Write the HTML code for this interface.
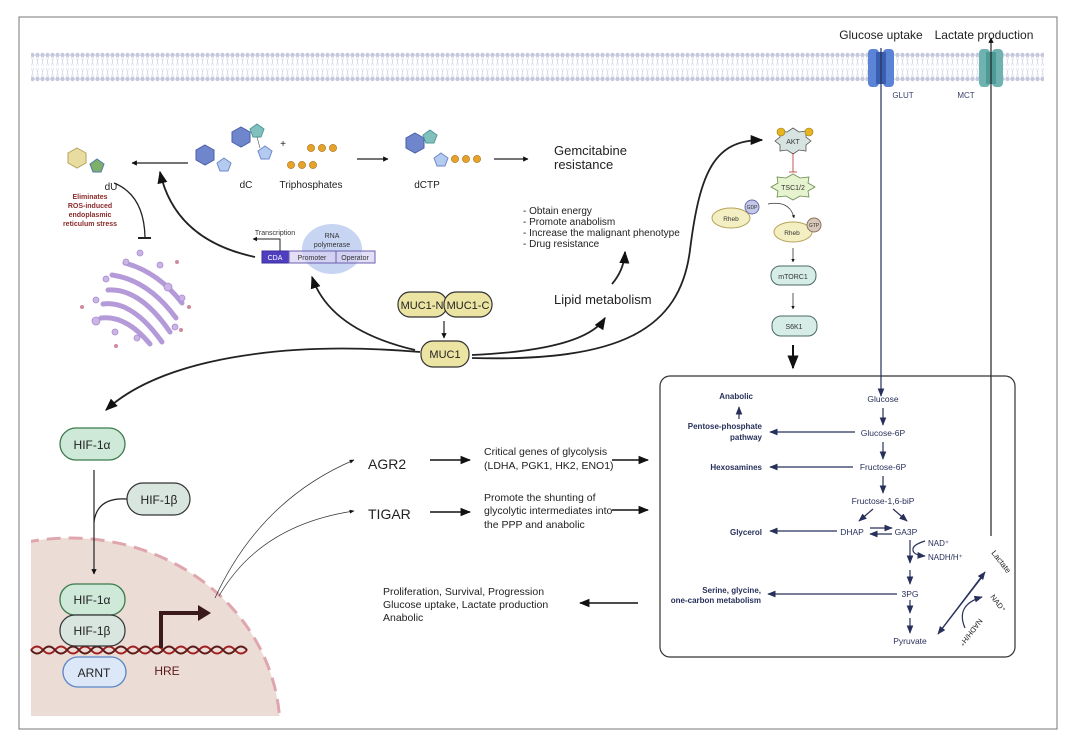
<!DOCTYPE html>
<html><head><meta charset="utf-8"><style>
html,body{margin:0;padding:0;background:#fff;overflow:hidden;width:1070px;height:743px}
svg{display:block}
text{font-family:"Liberation Sans",sans-serif}
</style></head><body>
<svg width="1070" height="743" viewBox="0 0 1070 743" xmlns="http://www.w3.org/2000/svg">
<defs>
<marker id="a" viewBox="0 0 10 10" refX="9" refY="5" markerWidth="7" markerHeight="7" orient="auto"><path d="M0,1 L10,5 L0,9 z" fill="#111"/></marker>
<marker id="ab" viewBox="0 0 10 10" refX="9" refY="5" markerWidth="4.5" markerHeight="4.5" orient="auto"><path d="M0,0 L10,5 L0,10 z" fill="#111"/></marker>
<marker id="an" viewBox="0 0 10 10" refX="9" refY="5" markerWidth="7" markerHeight="7" orient="auto"><path d="M0,1 L10,5 L0,9 z" fill="#27305a"/></marker>
<pattern id="mem" x="0" y="52" width="5" height="30" patternUnits="userSpaceOnUse">
<circle cx="2.5" cy="3" r="2.2" fill="#c3c8dc"/><circle cx="2.5" cy="27" r="2.2" fill="#c3c8dc"/>
<path d="M1.5,5 L3.5,14 M3.5,5 L1.5,14 M1.5,16 L3.5,25 M3.5,16 L1.5,25" stroke="#d5d9e8" stroke-width="0.6"/>
</pattern>
<clipPath id="nuc"><rect x="31" y="400" width="260" height="316"/></clipPath>
</defs>

<rect x="19" y="17" width="1038" height="712" fill="#fff" stroke="#777" stroke-width="1"/>

<rect x="31" y="52" width="1013" height="30" fill="url(#mem)"/>
<rect x="868" y="49" width="11" height="38" rx="4" fill="#5b84d6"/><rect x="883" y="49" width="11" height="38" rx="4" fill="#5b84d6"/><rect x="876" y="52" width="10" height="32" fill="#3a5fb0"/>
<rect x="979" y="49" width="11" height="38" rx="4" fill="#6fb3b0"/><rect x="992" y="49" width="11" height="38" rx="4" fill="#6fb3b0"/><rect x="986" y="52" width="10" height="32" fill="#4e9a96"/>
<text x="881" y="39" font-size="12" text-anchor="middle" fill="#222">Glucose uptake</text>
<text x="984" y="39" font-size="12" text-anchor="middle" fill="#222">Lactate production</text>
<text x="903" y="98" font-size="8" text-anchor="middle" fill="#3a4270">GLUT</text>
<text x="966" y="98" font-size="8" text-anchor="middle" fill="#3a4270">MCT</text>
<line x1="881" y1="48" x2="881" y2="396" stroke="#27305a" stroke-width="1.2" marker-end="url(#an)"/>
<line x1="991" y1="536" x2="991" y2="38" stroke="#222" stroke-width="1.2" marker-end="url(#ab)"/>

<polygon points="77,148 86,153 86,163 77,168 68,163 68,153" fill="#e8dca0" stroke="#b6a35a"/>
<polygon points="97,159 104,164 101,172 93,172 90,164" fill="#7fb069" stroke="#4f7aa8"/>
<text x="111" y="190" font-size="10" text-anchor="middle" fill="#222">dU</text>
<line x1="188" y1="163" x2="132" y2="163" stroke="#222" stroke-width="1.2" marker-end="url(#ab)"/>
<polygon points="205,145 214,150 214,160 205,165 196,160 196,150" fill="#6f86cc" stroke="#4a5ea8"/>
<polygon points="224,158 231,163 228,171 220,171 217,163" fill="#b3cbef" stroke="#6f86cc"/>
<polygon points="241,127 250,132 250,142 241,147 232,142 232,132" fill="#6f86cc" stroke="#4a5ea8"/>
<polygon points="257,124 264,129 261,137 253,137 250,129" fill="#82c0bd" stroke="#4e9a96"/>
<polygon points="265,146 272,151 269,159 261,159 258,151" fill="#b3cbef" stroke="#6f86cc"/>
<line x1="257" y1="137" x2="260" y2="148" stroke="#555" stroke-width="0.6"/>
<text x="283" y="147" font-size="10" text-anchor="middle" fill="#222">+</text>
<g fill="#e6a22a" stroke="#a36f10" stroke-width="0.6">
<circle cx="311" cy="148" r="3.6"/><circle cx="322" cy="148" r="3.6"/><circle cx="333" cy="148" r="3.6"/>
<circle cx="291" cy="165" r="3.6"/><circle cx="302" cy="165" r="3.6"/><circle cx="313" cy="165" r="3.6"/>
<circle cx="455" cy="159" r="3.6"/><circle cx="466" cy="159" r="3.6"/><circle cx="477" cy="159" r="3.6"/>
</g>
<text x="246" y="188" font-size="10" text-anchor="middle" fill="#222">dC</text>
<text x="311" y="188" font-size="10" text-anchor="middle" fill="#222">Triphosphates</text>
<line x1="357" y1="159" x2="388" y2="159" stroke="#222" stroke-width="1.2" marker-end="url(#ab)"/>
<polygon points="415,133 424,138 424,148 415,153 406,148 406,138" fill="#6f86cc" stroke="#4a5ea8"/>
<polygon points="430,130 437,135 434,143 426,143 423,135" fill="#82c0bd" stroke="#4e9a96"/>
<polygon points="441,153 448,158 445,166 437,166 434,158" fill="#b3cbef" stroke="#6f86cc"/>
<text x="427" y="188" font-size="10" text-anchor="middle" fill="#222">dCTP</text>
<line x1="494" y1="159" x2="528" y2="159" stroke="#222" stroke-width="1.2" marker-end="url(#ab)"/>
<text x="554" y="155" font-size="13" fill="#222">Gemcitabine</text>
<text x="554" y="169" font-size="13" fill="#222">resistance</text>

<g font-size="7" font-weight="bold" fill="#8a2a2a" text-anchor="middle">
<text x="90" y="199">Eliminates</text><text x="90" y="208">ROS-induced</text><text x="90" y="217">endoplasmic</text><text x="90" y="226">reticulum stress</text></g>
<path d="M114,183 Q144,195 145,237" fill="none" stroke="#222" stroke-width="1.3"/>
<line x1="138" y1="238" x2="151" y2="238" stroke="#222" stroke-width="2"/>
<g fill="none" stroke="#b49ad8" stroke-width="5" stroke-linecap="round">
<path d="M108,290 Q140,288 170,332"/><path d="M103,304 Q132,300 162,342"/><path d="M112,275 Q148,280 176,318"/><path d="M125,263 Q158,272 182,303"/><path d="M101,318 Q126,315 150,344"/></g>
<g fill="#cbb5e6" stroke="#a78bd0" stroke-width="0.8">
<circle cx="126" cy="262" r="3"/><circle cx="106" cy="279" r="3"/><circle cx="168" cy="287" r="4"/><circle cx="182" cy="298" r="3"/><circle cx="96" cy="321" r="4"/><circle cx="115" cy="332" r="3"/><circle cx="175" cy="327" r="3"/><circle cx="137" cy="338" r="3"/><circle cx="96" cy="300" r="3"/><circle cx="140" cy="253" r="3"/><circle cx="160" cy="265" r="3"/></g>
<g fill="#d08a9a"><circle cx="82" cy="307" r="2"/><circle cx="189" cy="307" r="2"/><circle cx="177" cy="262" r="2"/><circle cx="181" cy="330" r="2"/><circle cx="116" cy="346" r="2"/></g>

<path d="M255,257 Q175,240 160,172" fill="none" stroke="#222" stroke-width="1.8" marker-end="url(#a)"/>
<ellipse cx="332" cy="249" rx="30" ry="25" fill="#c7d4f2"/>
<text x="332" y="238" font-size="7" text-anchor="middle" fill="#333">RNA</text>
<text x="332" y="247" font-size="7" text-anchor="middle" fill="#333">polymerase</text>
<rect x="262" y="251" width="27" height="12" fill="#4f3fc0" stroke="#3a2e9a"/>
<rect x="289" y="251" width="47" height="12" fill="#d8d0f2" stroke="#6a60b0" fill-opacity="0.7"/>
<rect x="336" y="251" width="39" height="12" fill="#d8d0f2" stroke="#6a60b0" fill-opacity="0.7"/>
<text x="275" y="260" font-size="7" text-anchor="middle" fill="#fff">CDA</text>
<text x="312" y="260" font-size="7" text-anchor="middle" fill="#333">Promoter</text>
<text x="355" y="260" font-size="7" text-anchor="middle" fill="#333">Operator</text>
<text x="275" y="235" font-size="7" text-anchor="middle" fill="#333">Transcription</text>
<path d="M280,251 V239 H253" fill="none" stroke="#222" stroke-width="1" marker-end="url(#ab)"/>
<path d="M415,350 Q330,330 312,277" fill="none" stroke="#222" stroke-width="1.8" marker-end="url(#a)"/>

<rect x="398" y="292" width="49" height="25" rx="12" fill="#ece4a2" stroke="#333" stroke-width="1.2"/>
<rect x="444" y="292" width="48" height="25" rx="12" fill="#ece4a2" stroke="#333" stroke-width="1.2"/>
<text x="422" y="309" font-size="11" text-anchor="middle" fill="#222">MUC1-N</text>
<text x="468" y="309" font-size="11" text-anchor="middle" fill="#222">MUC1-C</text>
<line x1="444" y1="321" x2="444" y2="338" stroke="#222" stroke-width="1.2" marker-end="url(#ab)"/>
<rect x="421" y="341" width="48" height="26" rx="12" fill="#ece4a2" stroke="#333" stroke-width="1.2"/>
<text x="445" y="358" font-size="11" text-anchor="middle" fill="#222">MUC1</text>
<text x="554" y="304" font-size="13" fill="#222">Lipid metabolism</text>
<path d="M472,355 Q585,350 605,318" fill="none" stroke="#222" stroke-width="1.8" marker-end="url(#a)"/>
<g font-size="10" fill="#222"><text x="523" y="214">- Obtain energy</text><text x="523" y="225">- Promote anabolism</text><text x="523" y="236">- Increase the malignant phenotype</text><text x="523" y="247">- Drug resistance</text></g>
<path d="M612,284 Q624,270 625,252" fill="none" stroke="#222" stroke-width="1.8" marker-end="url(#a)"/>
<path d="M472,358 C620,362 680,330 690,250 C700,170 715,140 762,140" fill="none" stroke="#222" stroke-width="1.8" marker-end="url(#a)"/>
<path d="M420,352 C280,340 160,360 106,410" fill="none" stroke="#222" stroke-width="1.8" marker-end="url(#a)"/>

<polygon points="793,128 799,132 806,131 806,137 811,141 806,145 806,151 799,150 793,154 787,150 780,151 780,145 775,141 780,137 780,131 787,132" fill="#d7e3e0" stroke="#555" stroke-width="0.8"/>
<text x="793" y="144" font-size="7" text-anchor="middle" fill="#333">AKT</text>
<circle cx="781" cy="132" r="4" fill="#e6b520" stroke="#9a7410" stroke-width="0.6"/><circle cx="809" cy="132" r="4" fill="#e6b520" stroke="#9a7410" stroke-width="0.6"/>
<line x1="793" y1="153" x2="793" y2="172" stroke="#b03030" stroke-width="0.8"/><line x1="789" y1="172" x2="797" y2="172" stroke="#b03030" stroke-width="0.8"/>
<polygon points="793,174 800,178 809,177 808,183 815,187 808,191 809,197 800,196 793,200 786,196 777,197 778,191 771,187 778,183 777,177 786,178" fill="#e5f3cf" stroke="#6a8a4a" stroke-width="0.8"/>
<text x="793" y="190" font-size="7" text-anchor="middle" fill="#333">TSC1/2</text>
<ellipse cx="731" cy="218" rx="19" ry="10" fill="#f3efc2" stroke="#b6a35a"/>
<text x="731" y="221" font-size="6.5" text-anchor="middle" fill="#333">Rheb</text>
<circle cx="752" cy="207" r="7" fill="#c3c8e8" stroke="#6a70a8"/><text x="752" y="209" font-size="5" text-anchor="middle" fill="#333">GDP</text>
<path d="M768,204 Q790,200 794,218" fill="none" stroke="#333" stroke-width="0.7" marker-end="url(#ab)"/>
<ellipse cx="793" cy="232" rx="19" ry="10" fill="#f3efc2" stroke="#b6a35a"/>
<text x="792" y="235" font-size="6.5" text-anchor="middle" fill="#333">Rheb</text>
<circle cx="814" cy="225" r="7" fill="#d8c8b8" stroke="#8a7060"/><text x="814" y="227" font-size="5" text-anchor="middle" fill="#333">GTP</text>
<line x1="793" y1="248" x2="793" y2="262" stroke="#333" stroke-width="0.8" marker-end="url(#ab)"/>
<rect x="771" y="266" width="45" height="19" rx="9" fill="#d6ece6" stroke="#4a6a64"/>
<text x="793" y="279" font-size="7" text-anchor="middle" fill="#333">mTORC1</text>
<line x1="793" y1="293" x2="793" y2="309" stroke="#333" stroke-width="0.8" marker-end="url(#ab)"/>
<rect x="772" y="316" width="45" height="20" rx="9" fill="#d6ece6" stroke="#4a6a64"/>
<text x="794" y="329" font-size="7" text-anchor="middle" fill="#333">S6K1</text>
<line x1="793" y1="345" x2="793" y2="368" stroke="#111" stroke-width="2" marker-end="url(#a)"/>

<rect x="660" y="376" width="355" height="281" rx="10" fill="none" stroke="#333" stroke-width="1.2"/>
<g font-size="8.5" fill="#27305a" text-anchor="middle">
<text x="883" y="402">Glucose</text><text x="883" y="436">Glucose-6P</text><text x="883" y="470">Fructose-6P</text><text x="883" y="504">Fructose-1,6-biP</text>
<text x="852" y="535">DHAP</text><text x="906" y="535">GA3P</text><text x="910" y="597">3PG</text><text x="910" y="644">Pyruvate</text></g>
<g font-size="8" fill="#27305a"><text x="928" y="546">NAD⁺</text><text x="928" y="560">NADH/H⁺</text></g>
<g font-size="8" font-weight="bold" fill="#27305a" text-anchor="end">
<text x="753" y="399">Anabolic</text><text x="762" y="429">Pentose-phosphate</text><text x="762" y="440">pathway</text><text x="762" y="470">Hexosamines</text><text x="762" y="535">Glycerol</text><text x="761" y="593">Serine, glycine,</text><text x="761" y="603">one-carbon metabolism</text></g>
<g stroke="#27305a" stroke-width="1.2" fill="none" marker-end="url(#an)">
<line x1="739" y1="419" x2="739" y2="407"/>
<line x1="883" y1="408" x2="883" y2="425"/><line x1="883" y1="442" x2="883" y2="459"/><line x1="883" y1="476" x2="883" y2="493"/>
<line x1="855" y1="432" x2="770" y2="432"/><line x1="853" y1="467" x2="770" y2="467"/><line x1="837" y1="531" x2="770" y2="531"/><line x1="897" y1="594" x2="768" y2="594"/>
<line x1="873" y1="509" x2="859" y2="521"/><line x1="893" y1="509" x2="907" y2="521"/>
<line x1="870" y1="528" x2="892" y2="528"/><line x1="892" y1="534" x2="870" y2="534"/>
<line x1="910" y1="540" x2="910" y2="563"/><line x1="910" y1="570" x2="910" y2="584"/><line x1="910" y1="600" x2="910" y2="613"/><line x1="910" y1="618" x2="910" y2="633"/>
<path d="M925,541 Q912,545 913,550 Q913,555 925,556"/>
<line x1="941" y1="630" x2="985" y2="572"/><line x1="982" y1="577" x2="938" y2="634"/>
<path d="M965,628 Q955,605 982,597"/>
</g>
<text transform="translate(991,553) rotate(52)" font-size="8" fill="#222">Lactate</text>
<text transform="translate(990,597) rotate(52)" font-size="7.5" fill="#222">NAD⁺</text>
<text transform="translate(979,618) rotate(128)" font-size="7.5" fill="#222">NADH/H⁺</text>

<text x="368" y="469" font-size="14" fill="#222">AGR2</text>
<text x="368" y="519" font-size="14" fill="#222">TIGAR</text>
<line x1="430" y1="460" x2="470" y2="460" stroke="#111" stroke-width="1.5" marker-end="url(#a)"/>
<line x1="430" y1="512" x2="470" y2="512" stroke="#111" stroke-width="1.5" marker-end="url(#a)"/>
<g font-size="10.5" fill="#222"><text x="484" y="455">Critical genes of glycolysis</text><text x="484" y="469">(LDHA, PGK1, HK2, ENO1)</text>
<text x="484" y="501">Promote the shunting of</text><text x="484" y="514">glycolytic intermediates into</text><text x="484" y="528">the PPP and anabolic</text>
<text x="383" y="595">Proliferation, Survival, Progression</text><text x="383" y="608">Glucose uptake, Lactate production</text><text x="383" y="621">Anabolic</text></g>
<line x1="612" y1="460" x2="648" y2="460" stroke="#111" stroke-width="1.5" marker-end="url(#a)"/>
<line x1="612" y1="510" x2="648" y2="510" stroke="#111" stroke-width="1.5" marker-end="url(#a)"/>
<line x1="638" y1="603" x2="580" y2="603" stroke="#111" stroke-width="1.5" marker-end="url(#a)"/>

<g clip-path="url(#nuc)">
<ellipse cx="70" cy="730" rx="210" ry="192" fill="#ecdcd6" stroke="#e0a6ae" stroke-width="3" stroke-dasharray="14,8"/>
</g>
<path d="M215,598 Q260,500 354,460" fill="none" stroke="#333" stroke-width="0.7" marker-end="url(#a)"/>
<path d="M219,596 Q260,525 354,511" fill="none" stroke="#333" stroke-width="0.7" marker-end="url(#a)"/>
<rect x="60" y="428" width="65" height="32" rx="16" fill="#cfe9d9" stroke="#3a7a4a" stroke-width="1.3"/>
<text x="92" y="449" font-size="12" text-anchor="middle" fill="#222">HIF-1α</text>
<line x1="94" y1="470" x2="94" y2="574" stroke="#222" stroke-width="1.2" marker-end="url(#ab)"/>
<rect x="127" y="483" width="63" height="32" rx="16" fill="#d9e6e0" stroke="#333" stroke-width="1.2"/>
<text x="159" y="504" font-size="12" text-anchor="middle" fill="#222">HIF-1β</text>
<path d="M127,499 Q97,497 94,522" fill="none" stroke="#222" stroke-width="1.2"/>
<path d="M31,650 q6,-7 12,0 t12,0 t12,0 t12,0 t12,0 t12,0 t12,0 t12,0 t12,0 t12,0 t12,0 t12,0 t12,0 t12,0 t12,0 t12,0 t12,0 t12,0" fill="none" stroke="#a02020" stroke-width="2"/>
<path d="M31,650 q6,7 12,0 t12,0 t12,0 t12,0 t12,0 t12,0 t12,0 t12,0 t12,0 t12,0 t12,0 t12,0 t12,0 t12,0 t12,0 t12,0 t12,0 t12,0" fill="none" stroke="#5a1a1a" stroke-width="2"/>
<rect x="60" y="584" width="65" height="31" rx="15" fill="#cfe9d9" stroke="#3a7a4a" stroke-width="1.3"/>
<text x="92" y="604" font-size="12" text-anchor="middle" fill="#222">HIF-1α</text>
<rect x="60" y="615" width="65" height="31" rx="15" fill="#d9e6e0" stroke="#333" stroke-width="1.2"/>
<text x="92" y="635" font-size="12" text-anchor="middle" fill="#222">HIF-1β</text>
<rect x="63" y="657" width="63" height="30" rx="15" fill="#dce7f8" stroke="#5a86c8" stroke-width="1.3"/>
<text x="94" y="677" font-size="12" text-anchor="middle" fill="#222">ARNT</text>
<path d="M161,648 V613 H200" fill="none" stroke="#3a1a1a" stroke-width="4"/>
<polygon points="198,605 211,613 198,621" fill="#3a1a1a"/>
<text x="167" y="675" font-size="12" text-anchor="middle" fill="#5a1a1a">HRE</text>
</svg>
</body></html>
